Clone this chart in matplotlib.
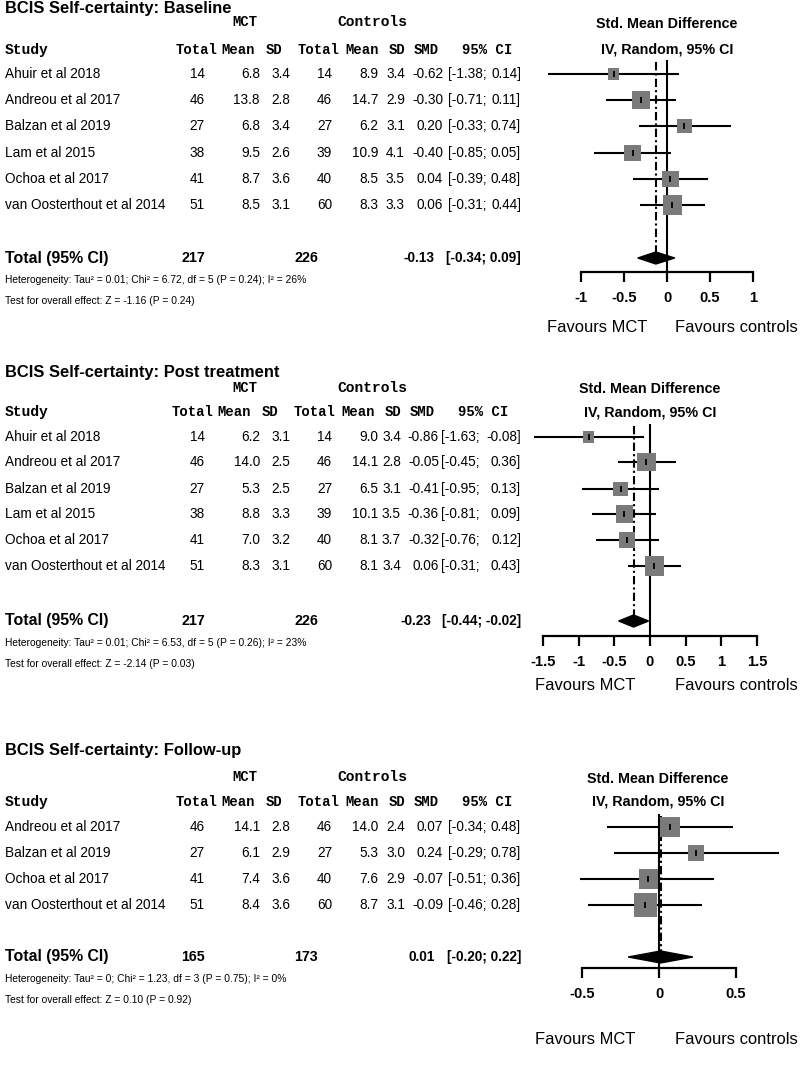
import numpy as np
import matplotlib.pyplot as plt
from matplotlib import font_manager

# ---------------- data: Baseline ----------------
studies_1 = ["Ahuir et al 2018", "Andreou et al 2017", "Balzan et al 2019",
             "Lam et al 2015", "Ochoa et al 2017", "van Oosterthout et al 2014"]
mct_n_1 = [14, 46, 27, 38, 41, 51]
mct_mean_1 = [6.8, 13.8, 6.8, 9.5, 8.7, 8.5]
mct_sd_1 = [3.4, 2.8, 3.4, 2.6, 3.6, 3.1]
ctl_n_1 = [14, 46, 27, 39, 40, 60]
ctl_mean_1 = [8.9, 14.7, 6.2, 10.9, 8.5, 8.3]
ctl_sd_1 = [3.4, 2.9, 3.1, 4.1, 3.5, 3.3]
smd_1 = [-0.62, -0.30, 0.20, -0.40, 0.04, 0.06]
lo_1 = [-1.38, -0.71, -0.33, -0.85, -0.39, -0.31]
hi_1 = [0.14, 0.11, 0.74, 0.05, 0.48, 0.44]
weight_1 = [7.9, 20.3, 13.4, 17.8, 17.8, 22.9]
total_1 = [217, 226, -0.13, -0.34, 0.09]
het_1 = "Heterogeneity: Tau² = 0.01; Chi² = 6.72, df = 5 (P = 0.24); I² = 26%"
test_1 = "Test for overall effect: Z = -1.16 (P = 0.24)"
ticks_1 = [-1, -0.5, 0, 0.5, 1]

# ---------------- data: Post treatment ----------------
studies_2 = studies_1
mct_n_2 = [14, 46, 27, 38, 41, 51]
mct_mean_2 = [6.2, 14.0, 5.3, 8.8, 7.0, 8.3]
mct_sd_2 = [3.1, 2.5, 2.5, 3.3, 3.2, 3.1]
ctl_n_2 = [14, 46, 27, 39, 40, 60]
ctl_mean_2 = [9.0, 14.1, 6.5, 10.1, 8.1, 8.1]
ctl_sd_2 = [3.4, 2.8, 3.1, 3.5, 3.7, 3.4]
smd_2 = [-0.86, -0.05, -0.41, -0.36, -0.32, 0.06]
lo_2 = [-1.63, -0.45, -0.95, -0.81, -0.76, -0.31]
hi_2 = [-0.08, 0.36, 0.13, 0.09, 0.12, 0.43]
weight_2 = [7.6, 21.0, 13.4, 18.3, 15.8, 23.9]
total_2 = [217, 226, -0.23, -0.44, -0.02]
het_2 = "Heterogeneity: Tau² = 0.01; Chi² = 6.53, df = 5 (P = 0.26); I² = 23%"
test_2 = "Test for overall effect: Z = -2.14 (P = 0.03)"
ticks_2 = [-1.5, -1, -0.5, 0, 0.5, 1, 1.5]

# ---------------- data: Follow-up ----------------
studies_3 = ["Andreou et al 2017", "Balzan et al 2019", "Ochoa et al 2017",
             "van Oosterthout et al 2014"]
mct_n_3 = [46, 27, 41, 51]
mct_mean_3 = [14.1, 6.1, 7.4, 8.4]
mct_sd_3 = [2.8, 2.9, 3.6, 3.6]
ctl_n_3 = [46, 27, 40, 60]
ctl_mean_3 = [14.0, 5.3, 7.6, 8.7]
ctl_sd_3 = [2.4, 3.0, 2.9, 3.1]
smd_3 = [0.07, 0.24, -0.07, -0.09]
lo_3 = [-0.34, -0.29, -0.51, -0.46]
hi_3 = [0.48, 0.78, 0.36, 0.28]
weight_3 = [26.3, 16.9, 23.0, 33.8]
total_3 = [165, 173, 0.01, -0.20, 0.22]
het_3 = "Heterogeneity: Tau² = 0; Chi² = 1.23, df = 3 (P = 0.75); I² = 0%"
test_3 = "Test for overall effect: Z = 0.10 (P = 0.92)"
ticks_3 = [-0.5, 0, 0.5]

titles = ["BCIS Self-certainty: Baseline", "BCIS Self-certainty: Post treatment",
          "BCIS Self-certainty: Follow-up"]

W, H = 800, 1068
fig = plt.figure(figsize=(8, 10.68), dpi=100)

# narrow sans if available, otherwise shrink regular one
try:
    font_manager.findfont(font_manager.FontProperties(family='Liberation Sans Narrow'),
                          fallback_to_default=False)
    SANS, K = 'Liberation Sans Narrow', 1.0
except ValueError:
    SANS, K = 'Liberation Sans', 0.82


def txt(x, y, s, size, ha='left', weight='normal', mono=False):
    fam = ['Liberation Mono', 'DejaVu Sans Mono'] if mono else [SANS, 'DejaVu Sans']
    fig.text(x / W, 1 - y / H, s, fontsize=size if mono else size * K, ha=ha,
             va='center', fontweight=weight, family=fam)


# column positions (px)
col_right = [205, 260, 290, 332, 378, 405, 443]
head_x = [197, 238, 274, 319, 362, 397, 426, 487]
head_lbl = ["Total", "Mean", "SD", "Total", "Mean", "SD", "SMD", "95% CI"]

layouts = [
    dict(title_y=8, group_y=22, head_y=50, rows=[74, 100, 126, 153, 179, 205],
         total_y=258, het_y=280, test_y=301, ax=(581, 753, 60, 272), smd_x=667,
         smd_y=24, fav_y=327, fav=(597, 736), ci=(448, 521), dx=0),
    dict(title_y=372, group_y=388, head_y=412, rows=[437, 462, 489, 514, 540, 566],
         total_y=621, het_y=643, test_y=664, ax=(543, 757, 424, 636), smd_x=650,
         smd_y=389, fav_y=686, fav=(585, 736), ci=(441, 521), dx=-4),
    dict(title_y=750, group_y=777, head_y=802, rows=[827, 853, 879, 905],
         total_y=957, het_y=979, test_y=1000, ax=(582, 736, 814, 968), smd_x=658,
         smd_y=779, fav_y=1040, fav=(585, 736), ci=(448, 521), dx=0),
]

panels = [
    (studies_1, mct_n_1, mct_mean_1, mct_sd_1, ctl_n_1, ctl_mean_1, ctl_sd_1,
     smd_1, lo_1, hi_1, weight_1, total_1, het_1, test_1, ticks_1),
    (studies_2, mct_n_2, mct_mean_2, mct_sd_2, ctl_n_2, ctl_mean_2, ctl_sd_2,
     smd_2, lo_2, hi_2, weight_2, total_2, het_2, test_2, ticks_2),
    (studies_3, mct_n_3, mct_mean_3, mct_sd_3, ctl_n_3, ctl_mean_3, ctl_sd_3,
     smd_3, lo_3, hi_3, weight_3, total_3, het_3, test_3, ticks_3),
]

for title, lay, p in zip(titles, layouts, panels):
    (stud, mn, mm, ms, cn, cm, cs, smd, lo, hi, wt, tot, het, test, ticks) = p
    dx = lay['dx']

    # ---- table ----
    txt(5, lay['title_y'], title, 14.5, weight='bold')
    txt(245, lay['group_y'], "MCT", 10, ha='center', weight='bold', mono=True)
    txt(372, lay['group_y'], "Controls", 10.5, ha='center', weight='bold', mono=True)
    txt(5, lay['head_y'], "Study", 10.5, weight='bold', mono=True)
    for hx, hl in zip(head_x, head_lbl):
        txt(hx + dx, lay['head_y'], hl, 10, ha='center', weight='bold', mono=True)

    for i, y in enumerate(lay['rows']):
        txt(5, y, stud[i], 12)
        vals = [str(mn[i]), f"{mm[i]:.1f}", f"{ms[i]:.1f}", str(cn[i]),
                f"{cm[i]:.1f}", f"{cs[i]:.1f}", f"{smd[i]:.2f}"]
        for cx, v in zip(col_right, vals):
            txt(cx + (dx if cx > 400 else 0), y, v, 12, ha='right')
        txt(lay['ci'][0], y, f"[{lo[i]:.2f};", 12)
        txt(lay['ci'][1], y, f"{hi[i]:.2f}]", 12, ha='right')

    ty = lay['total_y']
    txt(5, ty, "Total (95% CI)", 14, weight='bold')
    txt(205, ty, str(tot[0]), 12.5, ha='right', weight='bold')
    txt(318, ty, str(tot[1]), 12.5, ha='right', weight='bold')
    txt(435 + dx, ty, f"{tot[2]:.2f}", 12, ha='right', weight='bold')
    txt(lay['ci'][1], ty, f"[{tot[3]:.2f}; {tot[4]:.2f}]", 12, ha='right',
        weight='bold')
    txt(5, lay['het_y'], het, 9)
    txt(5, lay['test_y'], test, 9)

    # ---- forest plot ----
    L, R, top, axy = lay['ax']
    ax = fig.add_axes([L / W, 1 - axy / H, (R - L) / W, (axy - top) / H])
    ax.set_xlim(ticks[0], ticks[-1])
    ax.set_ylim(axy, top)
    rows = lay['rows']
    ax.hlines(rows, lo, hi, color='black', lw=1.5, clip_on=False, zorder=2)
    side = 4.0 * np.sqrt(wt)
    ax.scatter(smd, rows, s=(side * 0.72) ** 2, marker='s', color='#7a7a7a',
               linewidths=0, zorder=3, clip_on=False)
    ax.scatter(smd, rows, s=22, marker='|', color='black', linewidths=1.3,
               zorder=4, clip_on=False)
    ax.fill([tot[3], tot[2], tot[4], tot[2]], [ty, ty - 6, ty, ty + 6],
            color='black', zorder=4, clip_on=False)
    ax.vlines(0, top, axy, color='black', lw=1.5, zorder=1)
    ax.vlines(tot[2], top + 2, ty, color='black', lw=1.5,
              linestyles=(0, (4, 1.5, 1, 1.5)), zorder=1)

    for s in ['top', 'right', 'left']:
        ax.spines[s].set_visible(False)
    ax.spines['bottom'].set_linewidth(1.6)
    ax.patch.set_visible(False)
    ax.set_yticks([])
    ax.set_xticks(ticks)
    ax.set_xticklabels([f"{t:g}" for t in ticks], fontweight='bold',
                       fontsize=13 * K, family=[SANS, 'DejaVu Sans'])
    ax.tick_params(axis='x', direction='out', length=7, width=1.6, pad=7)

    txt(lay['smd_x'], lay['smd_y'], "Std. Mean Difference", 12.5, ha='center', weight='bold')
    txt(lay['smd_x'], lay['head_y'], "IV, Random, 95% CI", 12.5, ha='center', weight='bold')
    txt(lay['fav'][0], lay['fav_y'], "Favours MCT", 14.5, ha='center')
    txt(lay['fav'][1], lay['fav_y'], "Favours controls", 14.5, ha='center')

fig.savefig("out.png", dpi=100)
